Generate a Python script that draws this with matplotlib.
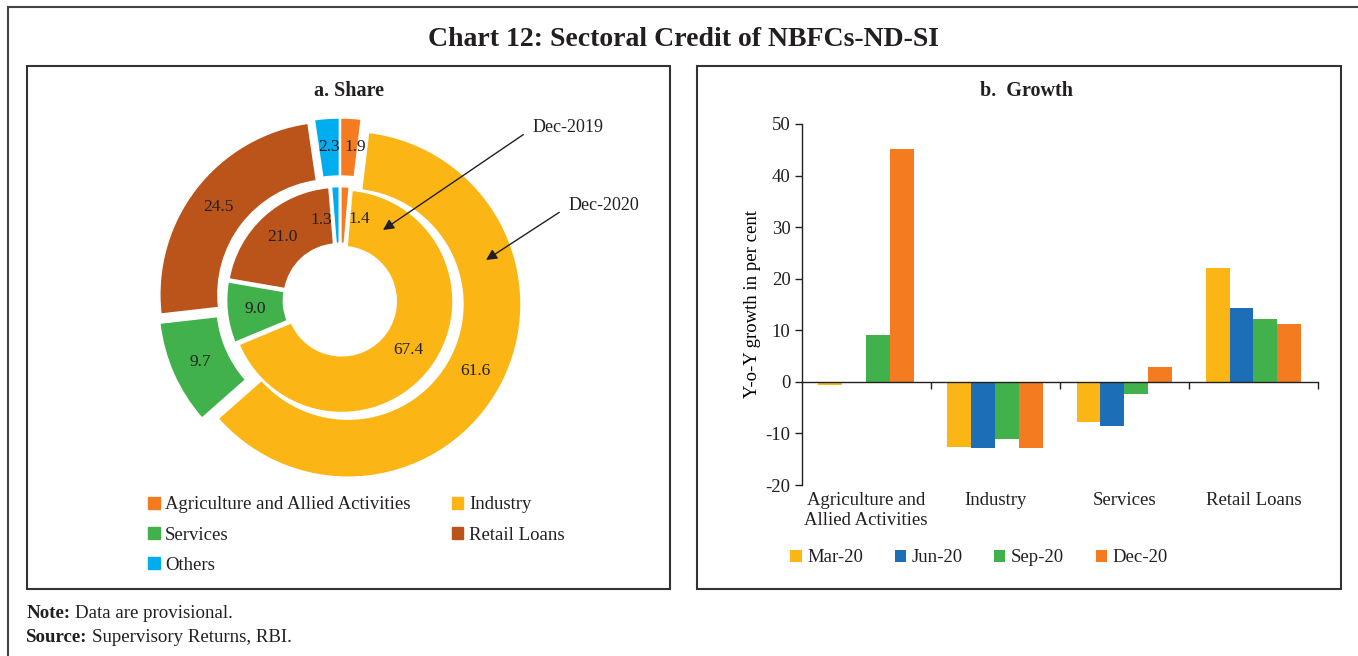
import numpy as np
import matplotlib.pyplot as plt
from matplotlib.patches import Rectangle, Patch
from matplotlib.lines import Line2D

plt.rcParams['font.family'] = ['Liberation Serif', 'DejaVu Serif']
plt.rcParams['axes.unicode_minus'] = False
plt.rcParams['text.color'] = '#231f20'
plt.rcParams['axes.edgecolor'] = '#231f20'
plt.rcParams['xtick.color'] = '#231f20'
plt.rcParams['ytick.color'] = '#231f20'

# a. share in total credit (per cent)
sectors = ['Agriculture and Allied Activities', 'Industry', 'Services',
           'Retail Loans', 'Others']
share_dec2020 = [1.9, 61.6, 9.7, 24.5, 2.3]   # outer ring
share_dec2019 = [1.4, 67.4, 9.0, 21.0, 1.3]   # inner ring

# b. y-o-y growth (per cent)
growth_categories = ['Agriculture and\nAllied Activities', 'Industry',
                     'Services', 'Retail Loans']
quarters = ['Mar-20', 'Jun-20', 'Sep-20', 'Dec-20']
growth_mar20 = [-0.6, -12.6, -7.7, 22.1]
growth_jun20 = [-0.3, -12.9, -8.5, 14.3]
growth_sep20 = [9.1, -11.0, -2.3, 12.2]
growth_dec20 = [45.1, -12.9, 2.9, 11.3]

sector_colors = ['#F47B20', '#FBB616', '#40B14B', '#BA541B', '#00AEEF']
quarter_colors = ['#FBB616', '#1C6EB7', '#40B14B', '#F47B20']

W, H = 1358, 656
fig = plt.figure(figsize=(W / 100, H / 100), dpi=100)


def px_rect(x0, y0, x1, y1):
    """pixel box (top-left origin) -> figure fraction rect"""
    return [x0 / W, 1 - y1 / H, (x1 - x0) / W, (y1 - y0) / H]


# outer frame and panel boxes
fig.add_artist(Line2D([8 / W, 1], [1 - 7 / H, 1 - 7 / H], color='#444444', lw=1.5))
fig.add_artist(Line2D([8 / W, 8 / W], [0, 1 - 7 / H], color='#444444', lw=1.5))
for x0, x1 in [(27, 670), (697, 1341)]:
    r = px_rect(x0, 66, x1, 589)
    fig.add_artist(Rectangle((r[0], r[1]), r[2], r[3], fill=False,
                             ec='#333333', lw=1.5))

fig.text(683 / W, 1 - 40 / H, 'Chart 12: Sectoral Credit of NBFCs-ND-SI',
         ha='center', va='center', fontsize=20, fontweight='bold')
fig.text(349 / W, 1 - 91 / H, 'a. Share', ha='center', va='center',
         fontsize=14.5, fontweight='bold')
fig.text(1027 / W, 1 - 91 / H, 'b.  Growth', ha='center', va='center',
         fontsize=14.5, fontweight='bold')

# ---- a. Share: two concentric doughnuts, axes in pixel units
ax1 = fig.add_axes(px_rect(140, 100, 540, 500))
outer, _ = ax1.pie(share_dec2020, radius=173, explode=[9] * 5, startangle=90,
                   counterclock=False, colors=sector_colors,
                   wedgeprops=dict(width=58, edgecolor='white', linewidth=1))
inner, _ = ax1.pie(share_dec2019, radius=112, explode=[2] * 5, startangle=90,
                   counterclock=False, colors=sector_colors,
                   wedgeprops=dict(width=58, edgecolor='white', linewidth=2))
ax1.set_xlim(-200, 200)
ax1.set_ylim(-200, 200)
ax1.set_aspect('equal')
ax1.axis('off')

outer_nudge = [(6, 0), (0, 0), (0, 0), (0, 0), (0, 0)]
inner_nudge = [(16, -4), (0, 0), (0, 0), (0, 0), (-15, -5)]
for wedges, values, nudge in [(outer, share_dec2020, outer_nudge),
                              (inner, share_dec2019, inner_nudge)]:
    for w, v, (dx, dy) in zip(wedges, values, nudge):
        ang = np.deg2rad((w.theta1 + w.theta2) / 2)
        rm = w.r - w.width / 2
        cx, cy = w.center
        ax1.text(cx + rm * np.cos(ang) + dx, cy + rm * np.sin(ang) + dy,
                 f'{v:.1f}', ha='center', va='center', fontsize=12.5)

arrow = dict(arrowstyle='-|>', color='#231f20', lw=1, mutation_scale=16,
             shrinkA=6, shrinkB=0, relpos=(0, 0.5))
ax1.annotate('Dec-2019', xy=(43, 70), xytext=(193, 172), ha='left',
             va='center', fontsize=13, arrowprops=arrow)
ax1.annotate('Dec-2020', xy=(146, 40), xytext=(229, 94), ha='left',
             va='center', fontsize=13, arrowprops=arrow)

order = [0, 2, 4, 1, 3]
fig.legend([Patch(color=sector_colors[i]) for i in order],
           [sectors[i] for i in order], ncol=2, frameon=False,
           loc='upper left', bbox_to_anchor=(139 / W, 1 - 487 / H),
           borderpad=0, fontsize=13.5, handlelength=0.6, handleheight=0.6,
           handletextpad=0.3, labelspacing=0.7, columnspacing=2.2)

# ---- b. Growth: grouped bars
ax2 = fig.add_axes(px_rect(801.5, 124, 1318, 485))
x = np.arange(len(growth_categories))
bw = 0.185
series = [growth_mar20, growth_jun20, growth_sep20, growth_dec20]
for k, (vals, c, lab) in enumerate(zip(series, quarter_colors, quarters)):
    ax2.bar(x + (k - 1.5) * bw, vals, bw, color=c, label=lab, lw=0)

ax2.set_xlim(-0.5, 3.5)
ax2.set_ylim(-20, 50)
ax2.set_yticks(range(-20, 51, 10))
ax2.set_xticks([0.5, 1.5, 2.5, 3.5])
ax2.set_xticklabels([])
ax2.tick_params(axis='both', direction='out', length=5, width=1, labelsize=13.5)
ax2.tick_params(axis='y', pad=3)
ax2.spines['bottom'].set_position(('data', 0))
ax2.spines['top'].set_visible(False)
ax2.spines['right'].set_visible(False)
ax2.spines['left'].set_linewidth(1)
ax2.spines['bottom'].set_linewidth(1)
ax2.set_ylabel('Y-o-Y growth in per cent', fontsize=13.5)
ax2.yaxis.set_label_coords((761 - 801.5) / 516.5, 0.5)

for i, lab in enumerate(growth_categories):
    ax2.text(i, -0.02, lab, transform=ax2.get_xaxis_transform(),
             ha='center', va='top', fontsize=13.5, linespacing=1.25)

handles, labels = ax2.get_legend_handles_labels()
fig.legend(handles, labels, ncol=4, frameon=False, loc='center left',
           bbox_to_anchor=(781 / W, 1 - 558 / H), borderpad=0, fontsize=13.5,
           handlelength=0.6, handleheight=0.6, handletextpad=0.3,
           columnspacing=1.68)

# notes
note = fig.text(27 / W, 1 - 613 / H, 'Note:', ha='left', va='center',
                fontsize=13.6, fontweight='bold')
ax1.annotate('Data are provisional.', xy=(1, 0.5), xycoords=note,
             xytext=(3, 0), textcoords='offset points',
             ha='left', va='center', fontsize=13.6)
src = fig.text(26 / W, 1 - 637 / H, 'Source:', ha='left', va='center',
               fontsize=13.6, fontweight='bold')
ax1.annotate('Supervisory Returns, RBI.', xy=(1, 0.5), xycoords=src,
             xytext=(3, 0), textcoords='offset points', ha='left',
             va='center', fontsize=13.6)

fig.savefig('out.png', dpi=100)
